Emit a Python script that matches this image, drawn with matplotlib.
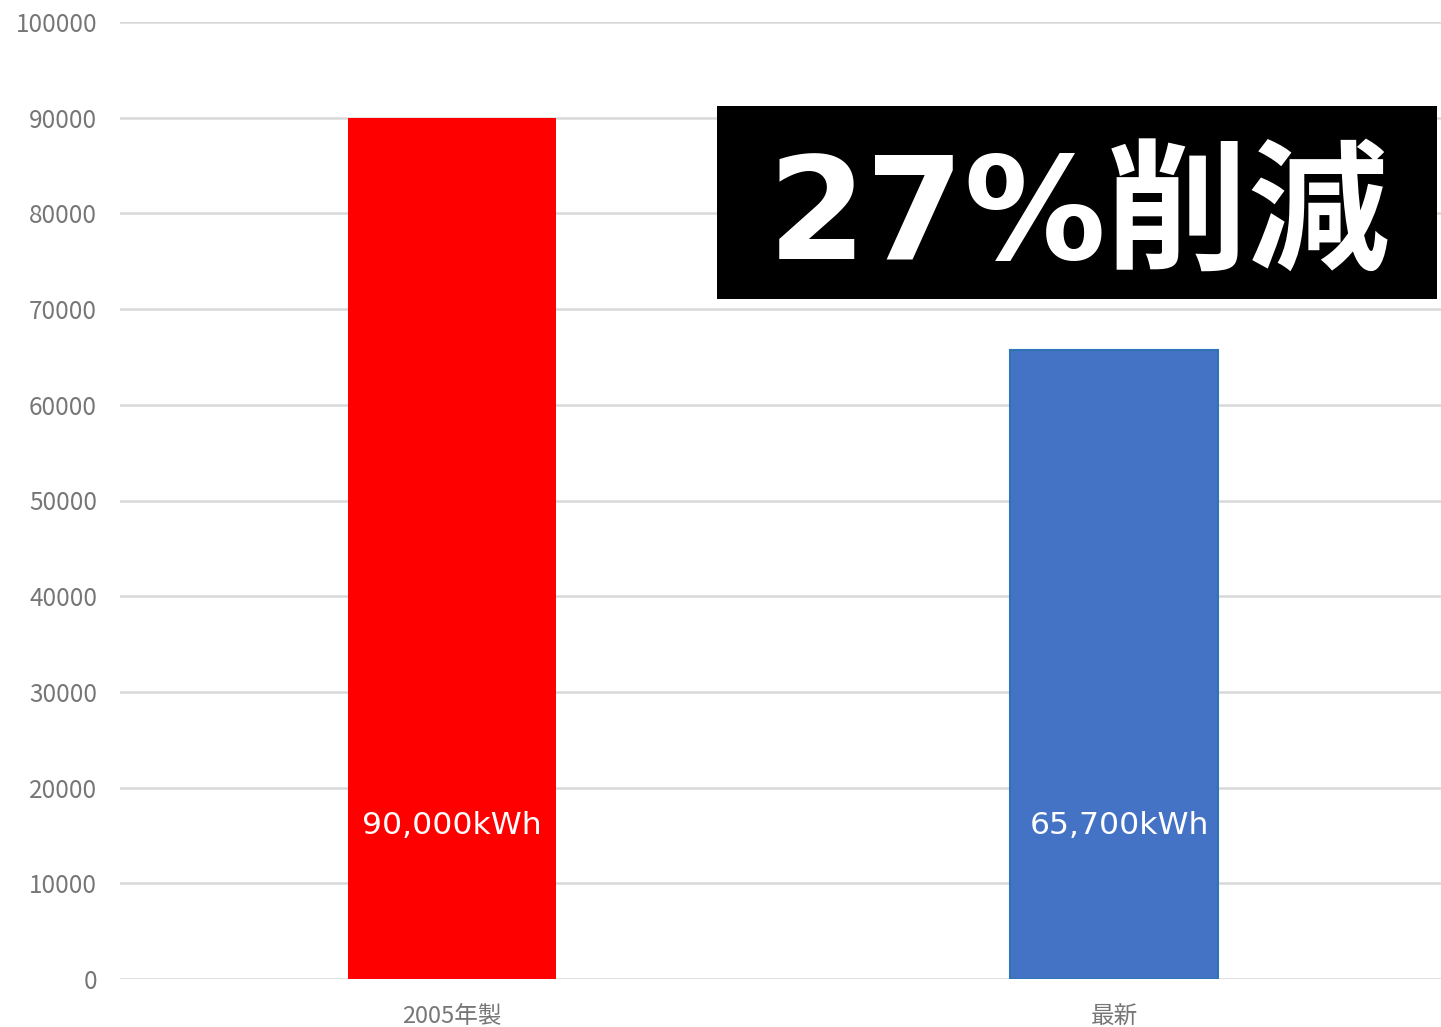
import matplotlib
matplotlib.use("Agg")
import matplotlib.pyplot as plt
from matplotlib.patches import Rectangle

plt.rcParams['font.family'] = ['Noto Sans CJK JP', 'DejaVu Sans']

categories = ["2005年製", "最新"]
values = [90000, 65700]
value_labels = ["90,000kWh", "65,700kWh"]
yticks = [0, 10000, 20000, 30000, 40000, 50000, 60000, 70000, 80000, 90000, 100000]
callout = "27%削減"

W, H = 1441, 1027
fig = plt.figure(figsize=(W/100, H/100), dpi=100)
ax = fig.add_axes([120/W, (H-979)/H, (1441-120)/W, (979-22)/H])

x = [0, 1]
ax.bar(x[0], values[0], width=0.314, color="#FF0000", zorder=3)
ax.bar(x[1], values[1], width=0.314, color="#4472C4", edgecolor="#2E75B6", linewidth=1.5, zorder=3)

ax.set_xlim(-0.5015, 1.494)
ax.set_ylim(0, 100000)
ax.set_yticks(yticks)
ax.set_yticklabels([str(v) for v in yticks])
ax.set_xticks(x)
ax.set_xticklabels(categories)
ax.yaxis.grid(True, color="#D9D9D9", linewidth=1.8, zorder=0)
ax.set_axisbelow(True)
for s in ax.spines.values():
    s.set_visible(False)
ax.tick_params(axis='both', length=0, colors="#767676")
ax.tick_params(axis='y', pad=16.5, labelsize=17.5)
ax.tick_params(axis='x', pad=19, labelsize=17)

offsets = [0.0, 0.009]
for xi, lab, off in zip(x, value_labels, offsets):
    ax.text(xi + off, 16000, lab, ha='center', va='center', color='white', fontsize=22.6,
            family=['DejaVu Sans', 'Noto Sans CJK JP'], zorder=4)

fig.patches.append(Rectangle((717/W, (H-299)/H), 720/W, 193/H, transform=fig.transFigure,
                             facecolor='black', edgecolor='none', zorder=5))
fig.text(1079/W, (H-259)/H, callout, ha='center', va='baseline', color='white',
         fontsize=102, fontweight='bold', family=['DejaVu Sans', 'Noto Sans CJK JP'], zorder=6)

fig.savefig("out.png", dpi=100)
